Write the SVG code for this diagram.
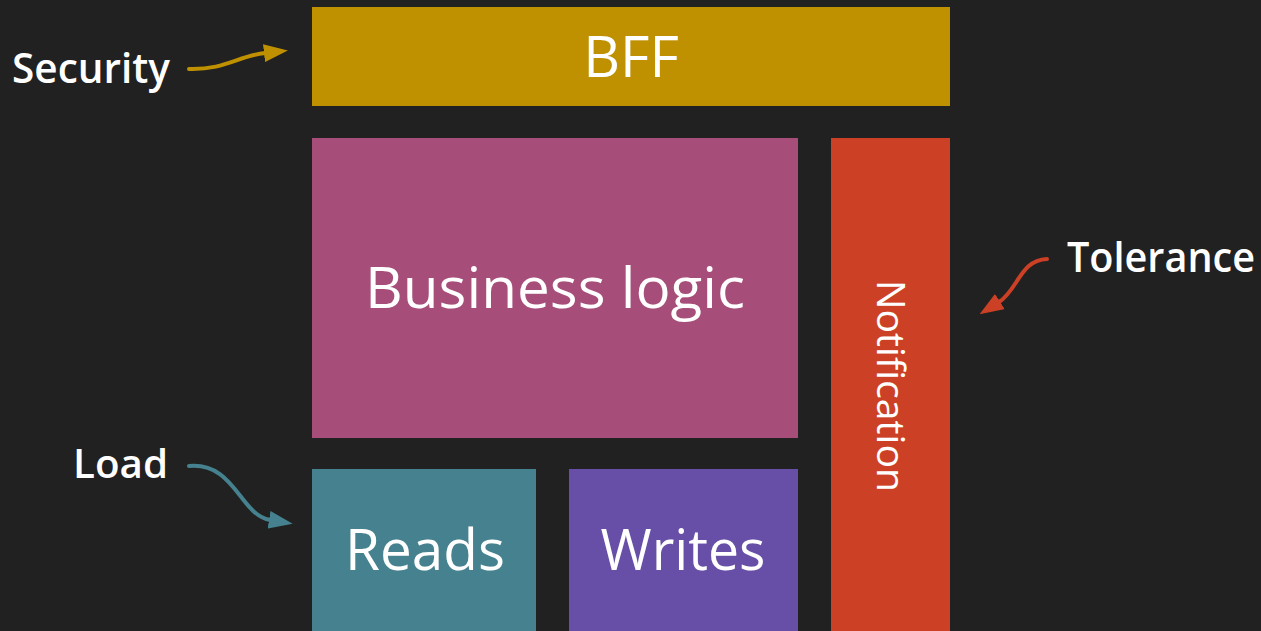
<svg xmlns="http://www.w3.org/2000/svg" width="1261" height="631" viewBox="0 0 1261 631">
  <style>
    text { font-family: "Open Sans", "Noto Sans", "Liberation Sans", sans-serif; fill: #ffffff; }
    .box { font-size: 57px; text-anchor: middle; }
    .lbl { font-size: 41px; font-weight: 600; }
    .conn { fill: none; stroke-width: 4; stroke-linecap: round; }
  </style>
  <defs>
    <marker id="ahGold" markerUnits="userSpaceOnUse" viewBox="0 0 24 18" markerWidth="24" markerHeight="18" refX="1" refY="9" orient="auto">
      <path d="M0,0 L24,9 L0,18 z" fill="#BF9000"/>
    </marker>
    <marker id="ahRed" markerUnits="userSpaceOnUse" viewBox="0 0 24 18" markerWidth="24" markerHeight="18" refX="1" refY="9" orient="auto">
      <path d="M0,0 L24,9 L0,18 z" fill="#CC4125"/>
    </marker>
    <marker id="ahTeal" markerUnits="userSpaceOnUse" viewBox="0 0 24 18" markerWidth="24" markerHeight="18" refX="1" refY="9" orient="auto">
      <path d="M0,0 L24,9 L0,18 z" fill="#45818E"/>
    </marker>
  </defs>
  <rect width="1261" height="631" fill="#212121"/>

  <g id="bff">
    <rect x="312" y="7" width="638" height="99" fill="#BF9000"/>
    <text class="box" x="631" y="77">BFF</text>
  </g>
  <g id="business-logic">
    <rect x="312" y="138" width="486" height="300" fill="#A64D79"/>
    <text class="box" x="555" y="308" textLength="380" lengthAdjust="spacingAndGlyphs">Business logic</text>
  </g>
  <g id="notification">
    <rect x="831" y="138" width="119" height="493" fill="#CC4125"/>
    <text transform="translate(877,386) rotate(90)" x="0" y="0" style="font-size:39px;text-anchor:middle" textLength="212" lengthAdjust="spacingAndGlyphs">Notification</text>
  </g>
  <g id="reads">
    <rect x="312" y="469" width="224" height="162" fill="#45818E"/>
    <text class="box" x="425" y="570" textLength="160" lengthAdjust="spacingAndGlyphs">Reads</text>
  </g>
  <g id="writes">
    <rect x="569" y="469" width="229" height="162" fill="#674EA7"/>
    <text class="box" x="683" y="570" textLength="165" lengthAdjust="spacingAndGlyphs">Writes</text>
  </g>

  <g id="label-security">
    <text class="lbl" x="12" y="83" style="font-size:41px" textLength="158" lengthAdjust="spacingAndGlyphs">Security</text>
  </g>
  <g id="label-tolerance">
    <text class="lbl" x="1067" y="272" textLength="188" lengthAdjust="spacingAndGlyphs">Tolerance</text>
  </g>
  <g id="label-load">
    <text class="lbl" x="73" y="478" style="font-size:40px" textLength="95" lengthAdjust="spacingAndGlyphs">Load</text>
  </g>

  <g id="connectors">
    <path class="conn" d="M189,69 C225,70 238,56 265,53" stroke="#BF9000" marker-end="url(#ahGold)"/>
    <path class="conn" d="M1047,259 C1020,260 1018,290 999,302" stroke="#CC4125" marker-end="url(#ahRed)"/>
    <path class="conn" d="M189,466 C235,462 240,515 270,520" stroke="#45818E" marker-end="url(#ahTeal)"/>
  </g>
</svg>
